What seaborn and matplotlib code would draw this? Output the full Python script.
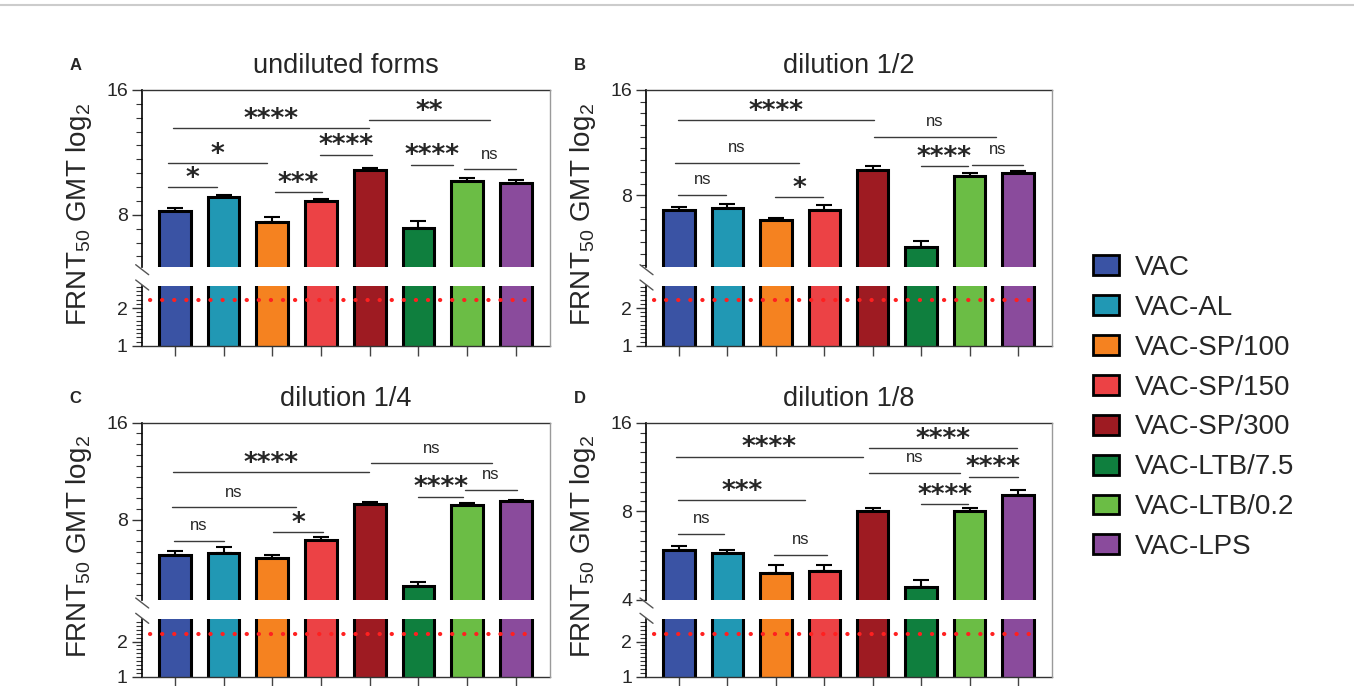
import matplotlib
matplotlib.use("Agg")
import matplotlib.pyplot as plt
import seaborn as sns
import numpy as np
import pandas as pd
from matplotlib.lines import Line2D
from matplotlib.patches import Patch
from matplotlib.ticker import FixedLocator, FuncFormatter, NullFormatter

# グループと色
groups = ["VAC", "VAC-AL", "VAC-SP/100", "VAC-SP/150", "VAC-SP/300",
          "VAC-LTB/7.5", "VAC-LTB/0.2", "VAC-LPS"]
colors = ["#3a53a4", "#2198b4", "#f58220", "#ec4245", "#9e1b22",
          "#0f7f3e", "#6bbd45", "#8a4b9c"]

# FRNT50 GMT (log2) と SEM
gmt_undiluted = [8.18, 8.83, 7.68, 8.66, 10.29, 7.43, 9.65, 9.56]
sem_undiluted = [0.15, 0.12, 0.23, 0.07, 0.10, 0.29, 0.18, 0.16]
gmt_half = [7.28, 7.35, 6.78, 7.28, 9.46, 5.69, 9.10, 9.26]
sem_half = [0.15, 0.21, 0.12, 0.22, 0.24, 0.23, 0.15, 0.14]
gmt_quarter = [6.21, 6.32, 6.09, 6.89, 8.92, 4.99, 8.88, 9.14]
sem_quarter = [0.20, 0.26, 0.14, 0.18, 0.18, 0.14, 0.12, 0.09]
gmt_eighth = [5.92, 5.78, 4.94, 5.03, 8.00, 4.44, 8.00, 9.09]
sem_eighth = [0.18, 0.15, 0.32, 0.23, 0.21, 0.23, 0.21, 0.35]

detection_limit = 2.32

# 有意差の線 (x0, x1, y, ラベル)
sig_undiluted = [(-0.15, 0.86, 9.33, "*"), (-0.15, 1.90, 10.66, "*"),
                 (2.05, 3.03, 9.06, "***"), (2.98, 4.04, 11.18, "****"),
                 (-0.03, 3.99, 12.95, "****"), (4.84, 5.71, 10.56, "****"),
                 (5.94, 7.00, 10.30, "ns"), (3.99, 6.47, 13.54, "**")]
sig_half = [(-0.01, 0.97, 8.01, "ns"), (-0.09, 2.48, 9.89, "ns"),
            (1.99, 2.97, 7.90, "*"), (-0.01, 4.02, 13.12, "****"),
            (4.02, 6.55, 11.78, "ns"), (4.99, 5.96, 9.70, "****"),
            (6.05, 7.10, 9.77, "ns")]
sig_quarter = [(-0.02, 1.01, 6.85, "ns"), (-0.05, 2.48, 8.73, "ns"),
               (2.01, 3.05, 7.30, "*"), (-0.03, 3.98, 11.23, "****"),
               (4.02, 6.51, 11.95, "ns"), (4.99, 5.92, 9.43, "****"),
               (5.95, 7.03, 9.89, "ns")]
sig_eighth = [(-0.01, 0.93, 6.69, "ns"), (-0.01, 2.61, 8.72, "***"),
              (1.97, 3.05, 5.70, "ns"), (-0.07, 3.80, 12.25, "****"),
              (3.93, 6.97, 13.09, "****"), (3.93, 5.80, 10.83, "ns"),
              (5.98, 6.99, 10.48, "****"), (5.00, 5.97, 8.45, "****")]

# スタイル
sns.set_style("ticks")
plt.rcParams["font.family"] = ["Liberation Sans", "DejaVu Sans"]
plt.rcParams["mathtext.fontset"] = "custom"
plt.rcParams["mathtext.rm"] = "Liberation Sans"

W, H = 1354, 686
fig = plt.figure(figsize=(W / 100, H / 100), dpi=100)


def fx(x):
    return x / W


def fy(y):
    return 1 - y / H


def rect(left, right, top, bottom):
    return [fx(left), fy(bottom), (right - left) / W, (bottom - top) / H]


def log2_minor(lo, hi):
    e = np.arange(0, 45) / 9
    v = 2 ** e
    return v[(v >= lo) & (v <= hi)]


def draw_panel(letter, title, gmt, sem, sig, left, right, top, brk, brk2, bottom,
               upper_min, lower_max, majors):
    df = pd.DataFrame({"group": groups, "gmt": gmt})
    ax_top = fig.add_axes(rect(left, right, top, brk))
    ax_bot = fig.add_axes(rect(left, right, brk2, bottom))

    for ax in (ax_top, ax_bot):
        sns.barplot(data=df, x="group", y="gmt", hue="group", palette=colors,
                    legend=False, width=0.65, saturation=1, errorbar=None,
                    edgecolor="black", linewidth=2.2, ax=ax)
        ax.set_yscale("log", base=2)
        ax.set_xlim(-0.68, 7.70)
        ax.set_xlabel("")
        ax.set_ylabel("")
        ax.spines["right"].set_visible(False)
        ax.spines["left"].set_linewidth(1.2)
        ax.spines["left"].set_color("black")
        ax.yaxis.set_minor_formatter(NullFormatter())
        ax.yaxis.set_major_formatter(FuncFormatter(lambda v, p: f"{v:g}"))
        ax.tick_params(axis="y", which="major", length=7, width=1, labelsize=14,
                       pad=3, left=True, color="#333333")
        ax.tick_params(axis="y", which="minor", length=4, width=0.8, left=True,
                       color="#333333")

    # 上側
    ax_top.set_ylim(upper_min, 16)
    ax_top.yaxis.set_major_locator(FixedLocator(majors))
    ax_top.yaxis.set_minor_locator(FixedLocator(log2_minor(upper_min, 16)))
    ax_top.spines["bottom"].set_visible(False)
    ax_top.spines["top"].set_color("#333333")
    ax_top.spines["top"].set_linewidth(1)
    ax_top.tick_params(axis="x", bottom=False, labelbottom=False)
    ax_top.errorbar(range(len(groups)), gmt, yerr=[np.zeros(len(gmt)), sem],
                    fmt="none", ecolor="black", elinewidth=1.5, capsize=5.5,
                    capthick=1.5, zorder=3)

    for x0, x1, y, lab in sig:
        ax_top.plot([x0, x1], [y, y], color="#3a3a3a", lw=1, clip_on=False)
        if lab == "ns":
            ax_top.annotate(lab, xy=((x0 + x1) / 2, y), xytext=(0, 7.8),
                            textcoords="offset points", ha="center", va="baseline",
                            fontsize=12)
        else:
            ax_top.annotate(lab, xy=((x0 + x1) / 2, y), xytext=(0, 1.0),
                            textcoords="offset points", ha="center", va="baseline",
                            fontsize=19, family="DejaVu Sans", fontweight="bold")

    # 下側
    ax_bot.set_ylim(1, lower_max)
    ax_bot.yaxis.set_major_locator(FixedLocator([1, 2]))
    ax_bot.yaxis.set_minor_locator(FixedLocator(log2_minor(1, lower_max)))
    ax_bot.spines["top"].set_visible(False)
    ax_bot.spines["bottom"].set_color("#333333")
    ax_bot.spines["bottom"].set_linewidth(1)
    ax_bot.set_xticks(range(len(groups)))
    ax_bot.tick_params(axis="x", bottom=True, labelbottom=False, length=7, width=1,
                       color="#444444")
    ax_bot.axhline(detection_limit, xmin=0.02, xmax=0.965, color="#ff2020", lw=3,
                   linestyle=(0, (0.05, 2.85)), dash_capstyle="round", zorder=5)

    # 右の枠線と軸の切れ目
    fig.add_artist(Line2D([fx(right)] * 2, [fy(bottom), fy(top)], color="#9a9a9a", lw=1))
    fig.add_artist(Line2D([fx(left - 6), fx(left + 7)], [fy(brk - 2), fy(brk + 8)],
                          color="#555555", lw=1))
    fig.add_artist(Line2D([fx(left - 6), fx(left + 7)], [fy(brk2 - 6), fy(brk2 + 4)],
                          color="#555555", lw=1))

    # ラベル類
    fig.text(fx((left + right) / 2), fy(top - 16.7), title, ha="center", va="baseline",
             fontsize=19.5)
    fig.text(fx(left - 63), fy((top + bottom) / 2 - 3),
             "FRNT$_\\mathregular{50}$ GMT log$_\\mathregular{2}$",
             rotation=90, ha="center", va="center", fontsize=20)
    fig.text(fx(left - 66), fy(top - 24), letter, ha="center", va="center",
             fontsize=12, fontweight="bold")


draw_panel("A", "undiluted forms", gmt_undiluted, sem_undiluted, sig_undiluted,
           141.7, 550, 90, 266.7, 286, 345.7, 6.0, 3.0, [8, 16])
draw_panel("B", "dilution 1/2", gmt_half, sem_half, sig_half,
           646, 1052, 90, 266.7, 286, 345.7, 5.0, 3.0, [8, 16])
draw_panel("C", "dilution 1/4", gmt_quarter, sem_quarter, sig_quarter,
           141.7, 550, 422.7, 600, 619.3, 676.7, 4.5, 3.1, [8, 16])
draw_panel("D", "dilution 1/8", gmt_eighth, sem_eighth, sig_eighth,
           646, 1052, 422.7, 600, 619.3, 676.7, 4.0, 3.1, [4, 8, 16])

# 凡例
handles = [Patch(facecolor=c, edgecolor="black", linewidth=2, label=g)
           for g, c in zip(groups, colors)]
fig.legend(handles=handles, loc="center left", bbox_to_anchor=(fx(1093), fy(407.5)),
           frameon=False, fontsize=20, handlelength=0.93, handleheight=0.72,
           handletextpad=0.58, labelspacing=0.5, borderpad=0, borderaxespad=0)

# 上端の薄い線
fig.add_artist(Line2D([0, 1], [fy(5)] * 2, color="#cccccc", lw=1.5))

fig.savefig("out.png", dpi=100)
